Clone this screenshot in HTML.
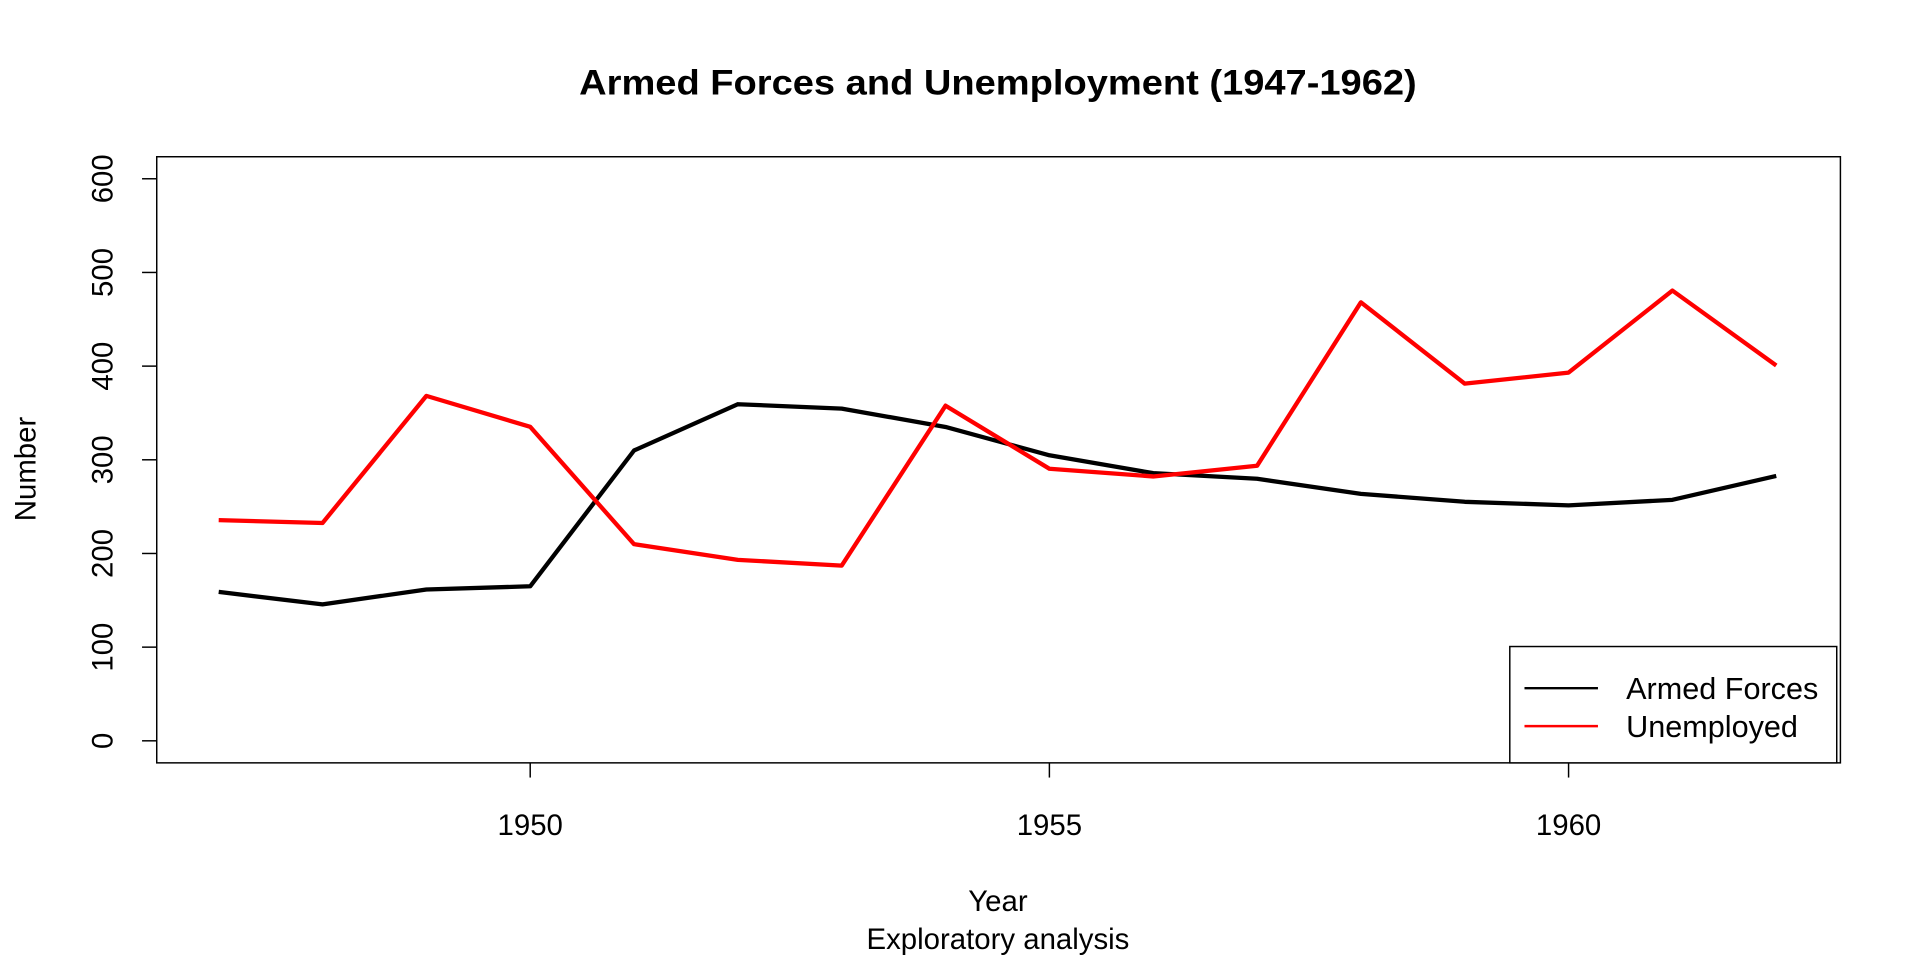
<!DOCTYPE html>
<html><head><style>body{margin:0;background:#fff}svg{display:block}</style></head><body>
<svg width="1920" height="960" viewBox="0 0 1568 784" xmlns="http://www.w3.org/2000/svg" font-family="Liberation Sans, Arial, sans-serif">
<rect width="1568" height="784" fill="#fff"/>
<text x="815" y="77" text-anchor="middle" font-size="29" font-weight="bold" textLength="684" lengthAdjust="spacingAndGlyphs">Armed Forces and Unemployment (1947-1962)</text>
<rect x="128" y="128" width="1375" height="495" fill="none" stroke="#000" stroke-width="1.2"/>
<g stroke="#000" stroke-width="1.2">
<line x1="116" y1="605" x2="128" y2="605"/><line x1="116" y1="528.5" x2="128" y2="528.5"/><line x1="116" y1="452" x2="128" y2="452"/><line x1="116" y1="375.5" x2="128" y2="375.5"/><line x1="116" y1="299" x2="128" y2="299"/><line x1="116" y1="222.5" x2="128" y2="222.5"/><line x1="116" y1="146" x2="128" y2="146"/>
<line x1="433" y1="623" x2="433" y2="635"/><line x1="857" y1="623" x2="857" y2="635"/><line x1="1281" y1="623" x2="1281" y2="635"/>
</g>
<g font-size="24" text-anchor="middle">
<text transform="translate(92,605) rotate(-90)">0</text>
<text transform="translate(92,528.5) rotate(-90)">100</text>
<text transform="translate(92,452) rotate(-90)">200</text>
<text transform="translate(92,375.5) rotate(-90)">300</text>
<text transform="translate(92,299) rotate(-90)">400</text>
<text transform="translate(92,222.5) rotate(-90)">500</text>
<text transform="translate(92,146) rotate(-90)">600</text>
<text x="433" y="682">1950</text><text x="857" y="682">1955</text><text x="1281" y="682">1960</text>
<text x="815" y="744">Year</text>
<text x="815" y="775">Exploratory analysis</text>
<text transform="translate(29,383) rotate(-90)">Number</text>
</g>
<polyline fill="none" stroke="#000" stroke-width="3.5" stroke-linejoin="round" points="178.6,483.4 263.4,493.6 348.2,481.4 433,478.8 517.8,367.9 602.6,330.1 687.4,333.7 772.2,348.7 857,371.8 941.8,386.4 1026.6,391 1111.4,403.3 1196.2,409.8 1281,412.7 1365.8,408.2 1450.6,388.7"/>
<polyline fill="none" stroke="#f00" stroke-width="3.5" stroke-linejoin="round" points="178.6,424.8 263.4,427.1 348.2,323.3 433,348.6 517.8,444.4 602.6,457.2 687.4,461.9 772.2,331.3 857,382.8 941.8,389.1 1026.6,380.4 1111.4,246.9 1196.2,313.3 1281,304.3 1365.8,237.3 1450.6,298.5"/>
<rect x="1233" y="528" width="267" height="95" fill="#fff" stroke="#000" stroke-width="1.2"/>
<line x1="1245" y1="562" x2="1305" y2="562" stroke="#000" stroke-width="2"/>
<line x1="1245" y1="593" x2="1305" y2="593" stroke="#f00" stroke-width="2"/>
<text x="1328" y="571" font-size="25">Armed Forces</text>
<text x="1328" y="602" font-size="25">Unemployed</text>
</svg>
</body></html>
